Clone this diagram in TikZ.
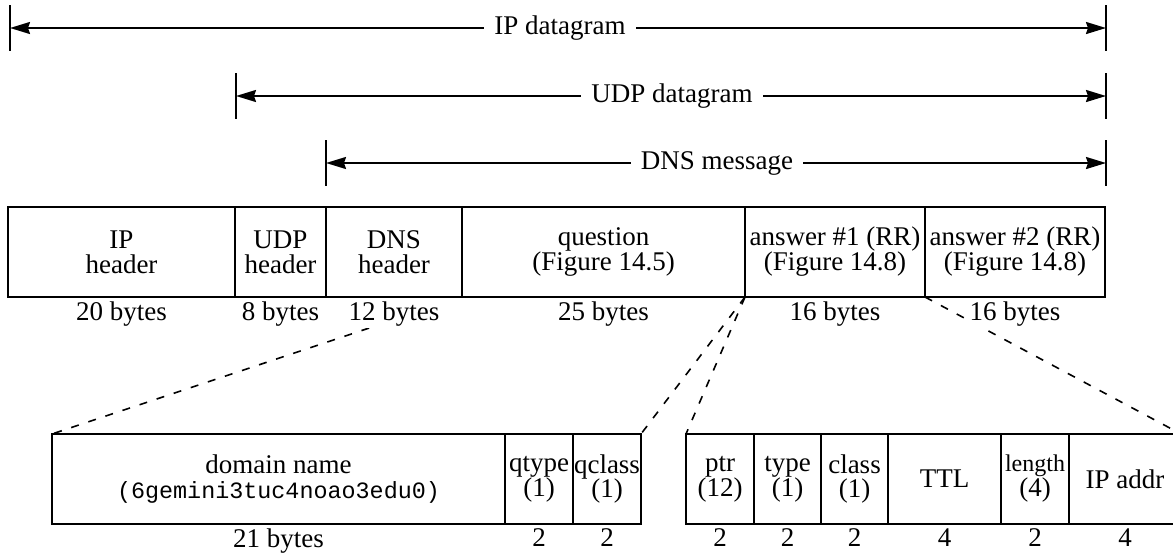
\documentclass[tikz,border=0pt]{standalone}
\usepackage{fontspec}
\setmainfont{Liberation Serif}
\setmonofont{Liberation Mono}
\usetikzlibrary{arrows.meta,positioning}

\begin{document}
\begin{tikzpicture}[x=0.5pt, y=-0.5pt,
  >={Stealth[length=10pt,width=6pt,inset=1pt]},
  field/.style={draw, line width=1.3pt, minimum height=45pt, inner xsep=0pt,
    inner ysep=1pt, outer sep=0pt, align=center,
    font=\fontsize{13.5}{12.5}\selectfont},
  bytes/.style={fill=white, inner sep=1pt, font=\fontsize{13.5}{14}\selectfont},
  dimline/.style={line width=1pt, <->},
  dimtick/.style={line width=1.1pt},
  dimlabel/.style={fill=white, inner xsep=5pt, inner ysep=1pt,
    font=\fontsize{13.5}{14}\selectfont},
  expand/.style={line width=0.8pt, dash pattern=on 4pt off 5pt}]
\useasboundingbox (0,0) rectangle (1173,552);
\clip (0,0) rectangle (1173,552);
% ---- nested length arrows ----
\coordinate (ipL) at (10,28);   \coordinate (ipR) at (1106,28);
\coordinate (udpL) at (236,96); \coordinate (udpR) at (1106,96);
\coordinate (dnsL) at (326,163); \coordinate (dnsR) at (1106,163);
\draw[dimline] (ipL) -- (ipR);
\draw[dimline] (udpL) -- (udpR);
\draw[dimline] (dnsL) -- (dnsR);
\foreach \c in {ipL,ipR,udpL,udpR,dnsL,dnsR}
  \draw[dimtick] ([yshift=11.5pt]\c) -- ([yshift=-11.5pt]\c);
\node[dimlabel] (iplab) at (560,28) {IP datagram};
\node[dimlabel] (udplab) at (672,96) {UDP datagram};
\node[dimlabel] (dnslab) at (717,163) {DNS message};
% ---- the whole datagram ----
\node[field, anchor=west, minimum width=113.5pt] (iph) at (8,252) {IP\\header};
\node[field, right=0pt of iph, minimum width=45.5pt] (udph) {UDP\\header};
\node[field, right=0pt of udph, minimum width=68pt] (dnsh) {DNS\\header};
\node[field, right=0pt of dnsh, minimum width=141.5pt] (quest)
  {question\\(Figure 14.5)};
\node[field, right=0pt of quest, minimum width=90pt] (ans1)
  {answer \#1 (RR)\\(Figure 14.8)};
\node[field, right=0pt of ans1, minimum width=90pt] (ans2)
  {answer \#2 (RR)\\(Figure 14.8)};
% ---- question, expanded ----
\node[field, anchor=west, minimum width=226.5pt] (domain) at (52,479)
  {domain name\\\texttt{\fontsize{11.7}{12.5}\selectfont(6gemini3tuc4noao3edu0)}};
\node[field, right=0pt of domain, minimum width=34pt] (qtype) {qtype\\(1)};
\node[field, right=0pt of qtype, minimum width=34pt] (qclass) {qclass\\(1)};
% ---- answer #1, expanded ----
\node[field, anchor=west, minimum width=34pt] (ptr) at (686,479) {ptr\\(12)};
\node[field, right=0pt of ptr, minimum width=33.5pt] (rtype) {type\\(1)};
\node[field, right=0pt of rtype, minimum width=33.5pt] (rclass) {class\\(1)};
\node[field, right=0pt of rclass, minimum width=56.5pt] (ttl) {TTL};
\node[field, right=0pt of ttl, minimum width=34pt] (rdlen)
  {{\fontsize{12}{12.5}\selectfont length}\\(4)};
\node[field, right=0pt of rdlen, minimum width=56pt] (rdata) {IP addr};
% ---- dashed expansion lines ----
\draw[expand, shorten <=13pt] (quest.south west) -- (domain.north west);
\draw[expand] (quest.south east) -- (qclass.north east);
\draw[expand] (ans1.south west) -- (ptr.north west);
\draw[expand] (ans1.south east) -- (rdata.north east);
% ---- sizes ----
\node[bytes, below=1pt of iph] (iphb) {20 bytes};
\node[bytes, below=1pt of udph] (udphb) {8 bytes};
\node[bytes, below=1pt of dnsh] (dnshb) {12 bytes};
\node[bytes, below=1pt of quest] (questb) {25 bytes};
\node[bytes, below=1pt of ans1] (ans1b) {16 bytes};
\node[bytes, below=1pt of ans2] (ans2b) {16 bytes};
\node[bytes, below=1pt of domain] (domainb) {21 bytes};
\node[bytes, below=1pt of qtype] (qtypeb) {2};
\node[bytes, below=1pt of qclass] (qclassb) {2};
\node[bytes, below=1pt of ptr] (ptrb) {2};
\node[bytes, below=1pt of rtype] (rtypeb) {2};
\node[bytes, below=1pt of rclass] (rclassb) {2};
\node[bytes, below=1pt of ttl] (ttlb) {4};
\node[bytes, below=1pt of rdlen] (rdlenb) {2};
\node[bytes, below=1pt of rdata] (rdatab) {4};
\end{tikzpicture}
\end{document}
